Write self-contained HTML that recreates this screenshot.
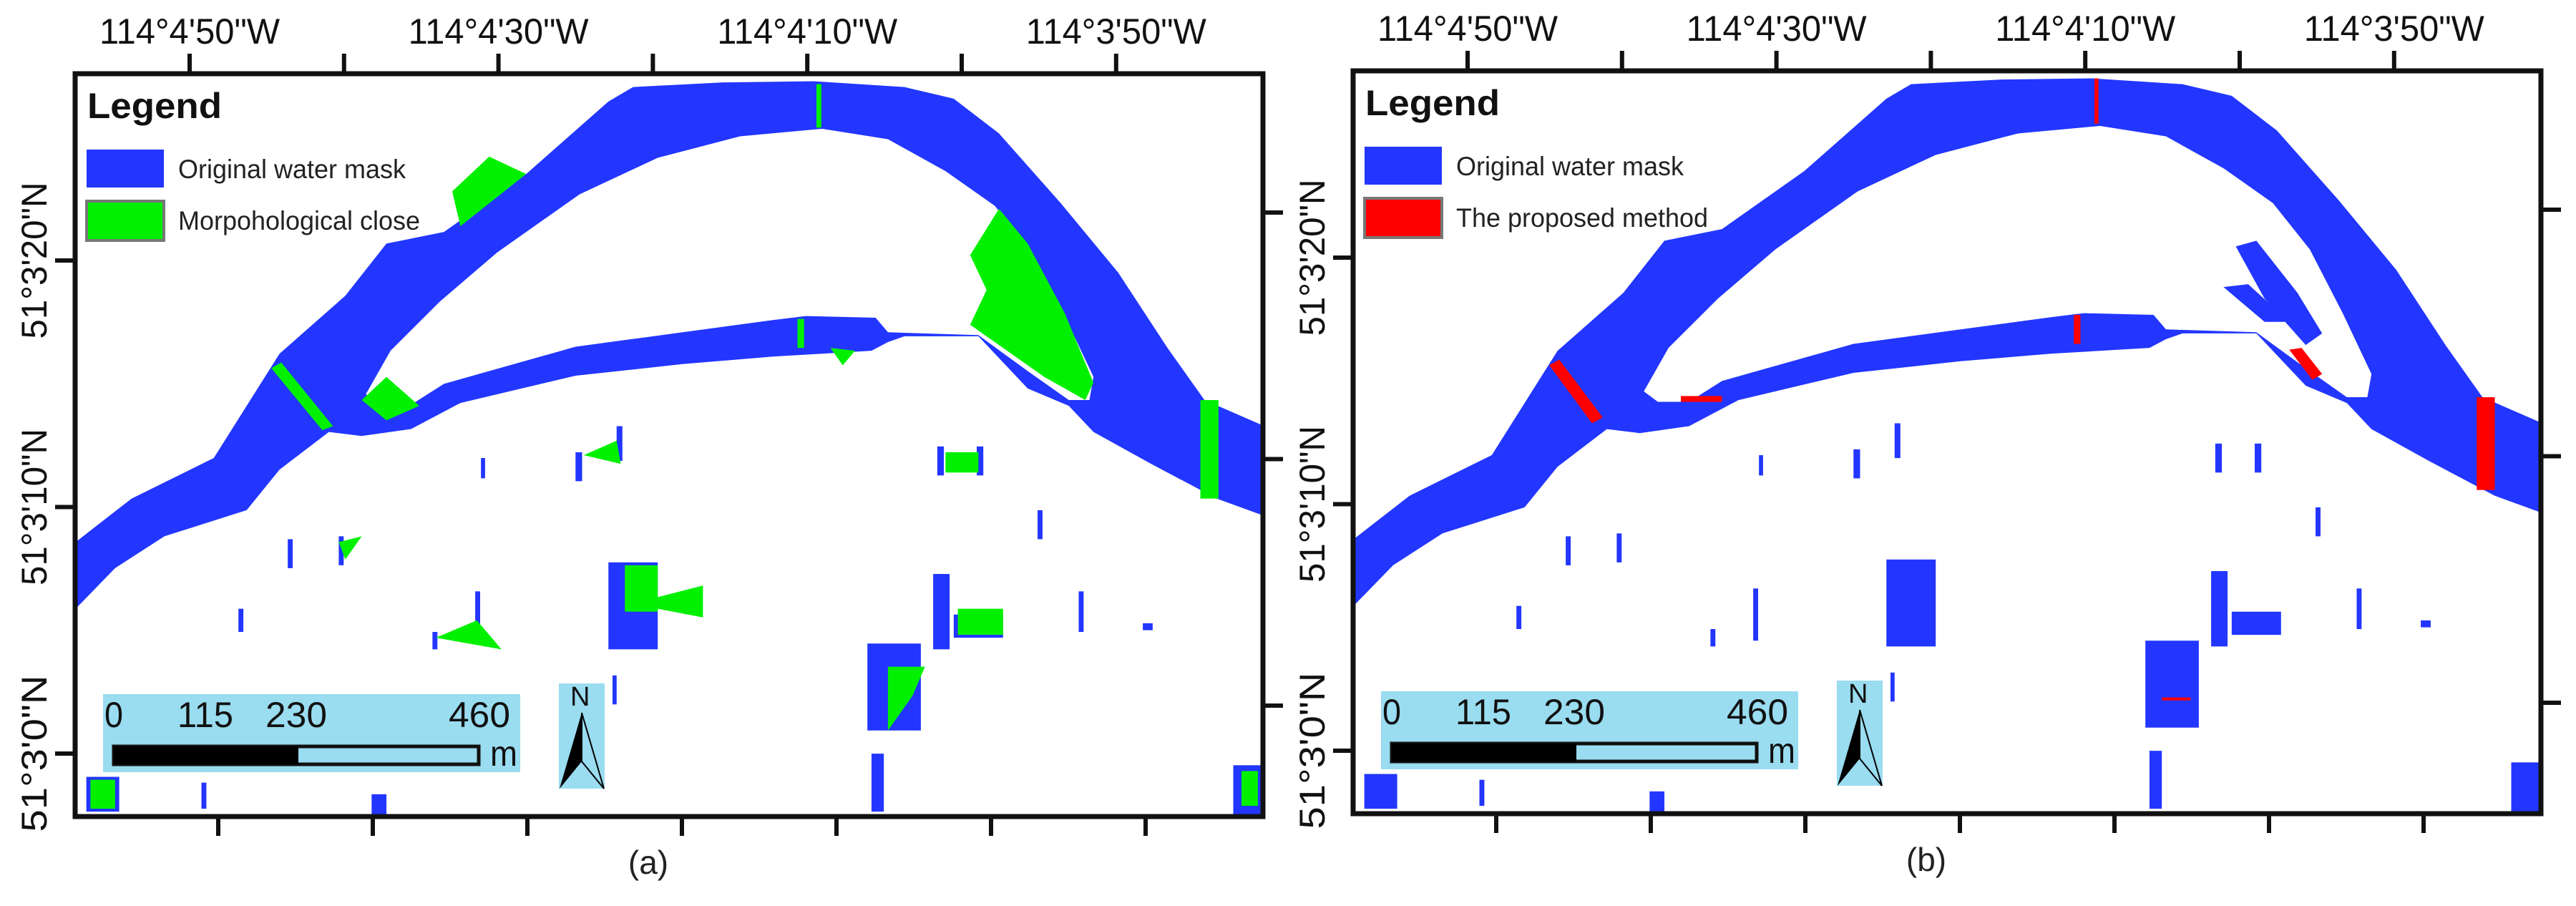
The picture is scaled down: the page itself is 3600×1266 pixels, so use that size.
<!DOCTYPE html>
<html><head><meta charset="utf-8"><style>
html,body{margin:0;padding:0;background:#fff;}
svg{display:block;font-family:"Liberation Sans",sans-serif;}
</style></head><body>
<svg id="fig" width="3600" height="1266" viewBox="0 0 3600 1266" xmlns="http://www.w3.org/2000/svg">
<defs>
<g id="river">
  <path fill="#2236ff" d="M92,935 L160,860 L260,790 L340,610 L420,510 L470,420 L540,400 L640,300 L740,175 L770,150 L880,142 L990,140 L1100,150 L1160,170 L1215,230 L1290,350 L1360,470 L1420,600 L1465,690 L1538,735 L1538,890 L1480,860 L1400,800 L1330,745 L1300,700 L1250,670 L1190,580 L1100,580 L1080,590 L1060,605 L940,615 L830,628 L700,648 L560,695 L500,740 L440,752 L400,745 L340,810 L300,880 L200,925 L140,980 L92,1050 Z"/>
  <path fill="#fff" d="M462,698 L445,680 L475,605 L535,520 L605,435 L705,335 L800,272 L900,235 L1000,222 L1080,240 L1150,295 L1210,355 L1255,435 L1295,545 L1330,650 L1325,690 L1300,690 L1250,640 L1190,578 L1080,573 L1065,548 L980,545 L940,552 L820,575 L700,598 L600,638 L540,662 L500,698 Z"/>
</g>
<g id="blobs">
  <rect x="740" y="970" width="60" height="150" fill="#2236ff"/>
  <rect x="1055" y="1110" width="65" height="150" fill="#2236ff"/>
  <rect x="1060" y="1300" width="15" height="100" fill="#2236ff"/>
  <rect x="1135" y="990" width="20" height="130" fill="#2236ff"/>
  <rect x="1160" y="1060" width="60" height="40" fill="#2236ff"/>
  <rect x="1140" y="770" width="8" height="50" fill="#2236ff"/>
  <rect x="1188" y="770" width="8" height="50" fill="#2236ff"/>
  <rect x="700" y="780" width="8" height="50" fill="#2236ff"/>
  <rect x="750" y="735" width="7" height="60" fill="#2236ff"/>
  <rect x="350" y="930" width="6" height="50" fill="#2236ff"/>
  <rect x="412" y="925" width="6" height="50" fill="#2236ff"/>
  <rect x="578" y="1020" width="6" height="90" fill="#2236ff"/>
  <rect x="290" y="1050" width="6" height="40" fill="#2236ff"/>
  <rect x="1312" y="1020" width="6" height="70" fill="#2236ff"/>
  <rect x="1262" y="880" width="6" height="50" fill="#2236ff"/>
  <rect x="1390" y="1075" width="12" height="12" fill="#2236ff"/>
  <rect x="452" y="1370" width="18" height="40" fill="#2236ff"/>
  <rect x="245" y="1350" width="6" height="45" fill="#2236ff"/>
  <rect x="1500" y="1320" width="35" height="85" fill="#2236ff"/>
  <rect x="105" y="1340" width="40" height="60" fill="#2236ff"/>
  <rect x="526" y="1090" width="6" height="30" fill="#2236ff"/>
  <rect x="585" y="790" width="5" height="35" fill="#2236ff"/>
  <rect x="745" y="1165" width="5" height="50" fill="#2236ff"/>
</g>
<g id="scalebar">
  <rect x="144" y="970" width="583" height="109" fill="#9adcf0"/>
  <g font-size="50" fill="#111">
    <text x="146" y="1016" textLength="26" lengthAdjust="spacingAndGlyphs">0</text>
    <text x="248" y="1016" textLength="78" lengthAdjust="spacingAndGlyphs">115</text>
    <text x="371" y="1016" textLength="86" lengthAdjust="spacingAndGlyphs">230</text>
    <text x="627" y="1016" textLength="86" lengthAdjust="spacingAndGlyphs">460</text>
    <text x="685" y="1070" textLength="38" lengthAdjust="spacingAndGlyphs">m</text>
  </g>
  <rect x="159" y="1043" width="510" height="25" fill="#9adcf0" stroke="#111" stroke-width="5"/>
  <rect x="159" y="1043" width="258" height="25" fill="#000"/>
</g>
<g id="north">
  <rect x="781" y="955" width="64" height="147" fill="#9adcf0"/>
  <text x="797" y="986" font-size="38" fill="#111">N</text>
  <polygon points="813,996 782,1102 813,1064" fill="#000"/>
  <polygon points="813,996 844,1102 813,1064" fill="none" stroke="#000" stroke-width="2"/>
</g>
</defs>

<g id="panelA">
  <g transform="matrix(1.149,0,0,0.81,0,0.13)">
    <use href="#river"/>
    <use href="#blobs"/>
    <g fill="#00f000">
      <polygon points="330,635 342,625 405,735 392,742"/>
      <rect x="1460" y="690" width="22" height="170"/>
      <polygon points="1215,360 1250,420 1295,540 1330,660 1320,690 1270,650 1220,600 1180,560 1200,500 1180,440"/>
      <rect x="970" y="550" width="8" height="50"/>
      <rect x="993" y="145" width="6" height="75"/>
      <polygon points="550,330 595,270 640,300 560,390"/>
      <polygon points="440,690 470,650 510,700 470,725"/>
      <rect x="760" y="975" width="40" height="80"/>
      <polygon points="800,1030 855,1010 855,1065 800,1050"/>
      <rect x="1150" y="780" width="40" height="35"/>
      <rect x="1165" y="1050" width="55" height="45"/>
      <polygon points="1080,1150 1125,1150 1110,1200 1080,1260"/>
      <rect x="1510" y="1330" width="20" height="60"/>
      <rect x="110" y="1345" width="30" height="50"/>
      <polygon points="412,935 440,925 420,965"/>
      <polygon points="530,1100 580,1070 610,1120"/>
      <polygon points="710,785 750,760 755,800"/>
      <polygon points="1010,600 1040,605 1025,630"/>
    </g>
  </g>
</g>

<g id="panelB">
  <g transform="translate(1786,-4) matrix(1.149,0,0,0.81,0,0.13)">
    <use href="#river"/>
    <use href="#blobs"/>
    <g fill="#2236ff">
      <polygon points="1165,430 1190,420 1240,510 1270,580 1250,600 1200,520"/>
      <polygon points="1150,500 1180,495 1230,560 1200,560"/>
    </g>
    <g fill="#ff0000">
      <polygon points="330,635 342,625 395,725 382,735"/>
      <rect x="1458" y="690" width="22" height="160"/>
      <rect x="968" y="548" width="8" height="50"/>
      <rect x="993" y="140" width="5" height="78"/>
      <rect x="490" y="688" width="50" height="10"/>
      <polygon points="1230,608 1245,605 1270,650 1258,660"/>
      <rect x="1075" y="1208" width="35" height="5"/>
    </g>
  </g>
</g>

<g id="axes"></g>

<g>
  <text x="122" y="165" font-size="50" font-weight="bold" fill="#111" textLength="188" lengthAdjust="spacingAndGlyphs">Legend</text>
  <rect x="121" y="209" width="108" height="53" fill="#2236ff"/>
  <text x="249" y="249" font-size="37" fill="#222" textLength="318" lengthAdjust="spacingAndGlyphs">Original water mask</text>
  <rect x="121" y="281" width="108" height="55" fill="#00f000" stroke="#777" stroke-width="4"/>
  <text x="249" y="321" font-size="37" fill="#222" textLength="338" lengthAdjust="spacingAndGlyphs">Morpohological close</text>
</g>
<g transform="translate(1786,-4)">
  <text x="122" y="165" font-size="50" font-weight="bold" fill="#111" textLength="188" lengthAdjust="spacingAndGlyphs">Legend</text>
  <rect x="121" y="209" width="108" height="53" fill="#2236ff"/>
  <text x="249" y="249" font-size="37" fill="#222" textLength="318" lengthAdjust="spacingAndGlyphs">Original water mask</text>
  <rect x="121" y="281" width="108" height="55" fill="#ff0000" stroke="#777" stroke-width="4"/>
  <text x="249" y="321" font-size="37" fill="#222" textLength="352" lengthAdjust="spacingAndGlyphs">The proposed method</text>
</g>

<use href="#scalebar"/>
<use href="#scalebar" transform="translate(1786,-4)"/>
<use href="#north"/>
<use href="#north" transform="translate(1786,-4)"/>

<text x="906" y="1221" font-size="46" text-anchor="middle" fill="#222">(a)</text>
<text x="2692" y="1217" font-size="46" text-anchor="middle" fill="#222">(b)</text>
</svg>
<script>
const lonLabels = ["114°4'50\"W", "114°4'30\"W", "114°4'10\"W", "114°3'50\"W"];
const latLabels = ["51°3'20\"N", "51°3'10\"N", "51°3'0\"N"];
const topTickCount = [0,1,2,3,4,5,6];
const bottomTickCount = [0,1,2,3,4,5,6];
const sideTickCount = [0,1,2];

const NS = "http://www.w3.org/2000/svg";
const axes = document.getElementById('axes');
function mk(tag, attrs){ const e=document.createElementNS(NS,tag); for(const k in attrs) e.setAttribute(k,attrs[k]); axes.appendChild(e); return e; }

const panels = [
  {dx:0, dy:0},
  {dx:1786, dy:-4}
];
const F = {left:105, right:1765, top:103, bottom:1141};
function topX(i){ return 265 + i*215.8; }
function botX(i){ return 305 + i*216; }
function leftY(i){ return 364 + i*344.5; }
function rightY(i){ return 297 + i*344.5; }

panels.forEach(p => {
  const L=F.left+p.dx, R=F.right+p.dx, T=F.top+p.dy, B=F.bottom+p.dy;
  const fr = mk('rect', {x:L, y:T, width:R-L, height:B-T, fill:'none', stroke:'#111', 'stroke-width':7});
  
  
  topTickCount.forEach(i => {
    const x = topX(i) + p.dx;
    const t = mk('line', {x1:x, x2:x, y1:T-28, y2:T, stroke:'#111', 'stroke-width':6});
    
    
  });
  bottomTickCount.forEach(i => {
    const xb = botX(i) + p.dx;
    const b = mk('line', {x1:xb, x2:xb, y1:B, y2:B+27, stroke:'#111', 'stroke-width':6});
    
    
  });
  lonLabels.forEach((lab, j) => {
    const x = topX(j*2) + p.dx;
    const t = mk('text', {x:x, y:61+p.dy, 'font-size':50, 'text-anchor':'middle', fill:'#111', textLength:252, lengthAdjust:'spacingAndGlyphs'});
    t.textContent = lab;
    
    
  });
  sideTickCount.forEach(i => {
    const y = leftY(i) + p.dy;
    const l = mk('line', {x1:L-28, x2:L, y1:y, y2:y, stroke:'#111', 'stroke-width':6});
    
    
    const yr = rightY(i) + p.dy;
    const r = mk('line', {x1:R, x2:R+28, y1:yr, y2:yr, stroke:'#111', 'stroke-width':6});
    
    
  });
  latLabels.forEach((lab, j) => {
    const y = leftY(j) + p.dy;
    const bx = L - 40;
    const t = mk('text', {x:bx, y:y, 'font-size':50, 'text-anchor':'middle', fill:'#111', transform:`rotate(-90 ${bx} ${y})`, textLength:219, lengthAdjust:'spacingAndGlyphs'});
    t.textContent = lab;
    
    
  });
});
</script>
</body></html>
